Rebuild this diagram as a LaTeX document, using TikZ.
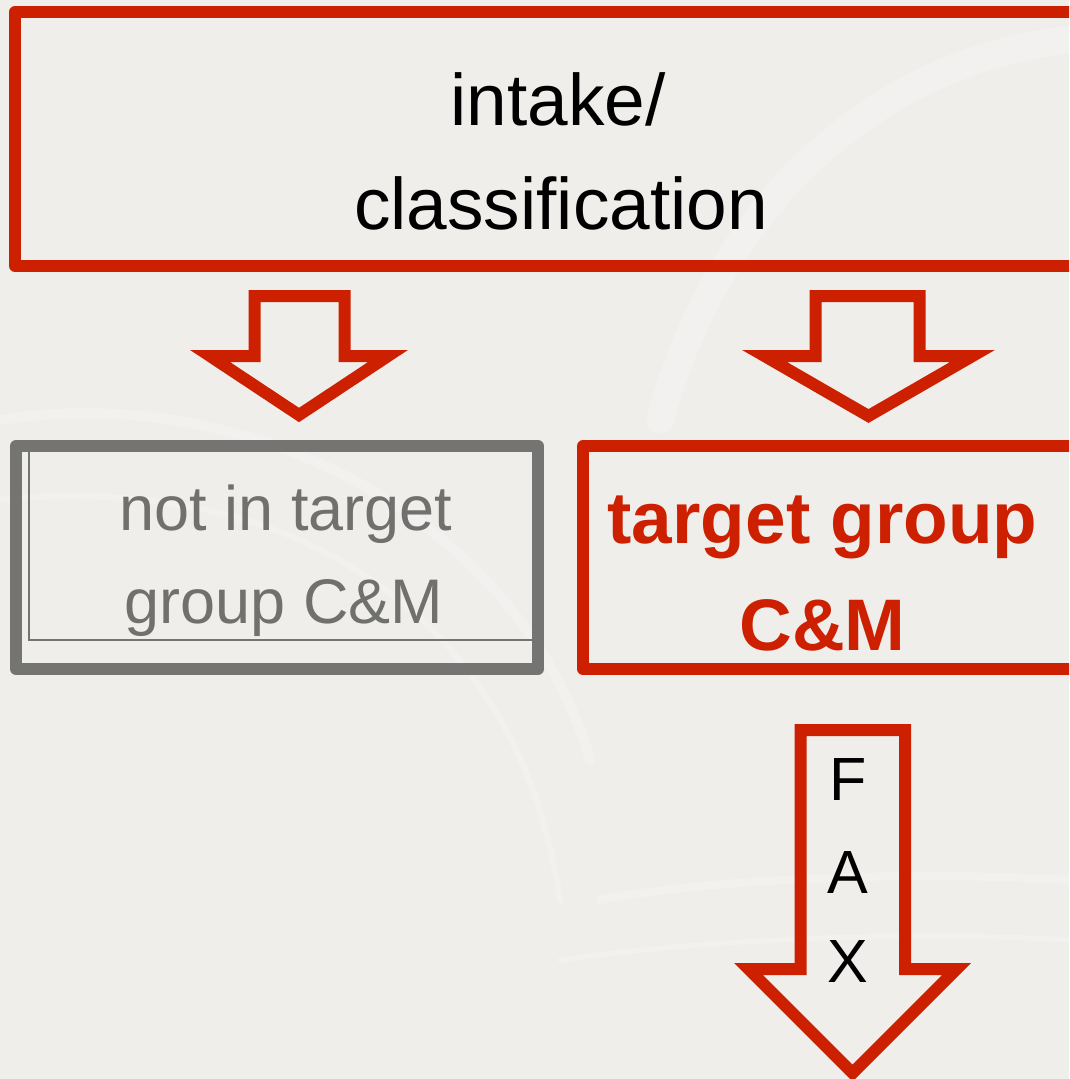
\documentclass[tikz,border=0pt]{standalone}
\usepackage{fontspec}
\setmainfont{Liberation Sans}
\definecolor{cmred}{RGB}{204,32,0}
\definecolor{cmgray}{RGB}{116,116,114}
\definecolor{cmtextgray}{RGB}{112,112,110}
\definecolor{bgcol}{RGB}{239,238,235}
\begin{document}
\begin{tikzpicture}[x=1pt,y=-1pt,
  redbox/.style={draw=cmred, line width=12pt, line join=round, inner sep=0pt},
  graybox/.style={draw=cmgray, line width=12pt, line join=round, inner sep=0pt},
  thinline/.style={draw=cmgray, line width=1.5pt},
  blockarrow/.style={draw=cmred, line width=12pt, line join=miter, miter limit=10},
  toptext/.style={font=\fontsize{73}{88}\selectfont, anchor=base, inner sep=0pt, text=black},
  graytext/.style={font=\fontsize{63}{76}\selectfont, anchor=base, inner sep=0pt, text=cmtextgray},
  redtext/.style={font=\fontsize{73}{88}\selectfont\bfseries, anchor=base, inner sep=0pt, text=cmred},
  faxtext/.style={font=\fontsize{61}{72}\selectfont, anchor=base, inner sep=0pt, text=black},
  bgline/.style={draw=white, opacity=0.22, line cap=round}
]
\useasboundingbox (0,0) rectangle (1069,1079);
\clip (0,0) rectangle (1069,1079);
\fill[bgcol] (0,0) rectangle (1069,1079);

% faint background book shapes
\draw[bgline, line width=28pt] (1069,40) .. controls (880,60) and (720,200) .. (660,420);
\draw[bgline, line width=10pt] (0,420) .. controls (250,380) and (520,520) .. (590,760);
\draw[bgline, line width=6pt] (0,500) .. controls (300,470) and (520,620) .. (560,900);
\draw[bgline, line width=8pt] (600,900) .. controls (700,880) and (900,870) .. (1069,880);
\draw[bgline, line width=5pt] (560,960) .. controls (700,940) and (900,930) .. (1069,940);

% boxes
\node[redbox, minimum width=1065pt, minimum height=254pt] (intake) at (547.5,139) {};
\node[graybox, minimum width=522pt, minimum height=223pt] (notin) at (277,557.5) {};
\node[redbox, minimum width=497pt, minimum height=223pt] (target) at (831.5,557.5) {};
\coordinate (innerTL) at (29,452);
\coordinate (innerBR) at (532,640);
\draw[thinline] (innerTL) |- (innerBR);

% texts
\node[toptext] (t1) at (558,125) {intake/};
\node[toptext] (t2) at (561,229) {classification};
\node[graytext] (g1) at (286,530) {not in target};
\node[graytext] (g2) at (284,623) {group C\&M};
\node[redtext] (r1) at (822.5,543) {target group};
\node[redtext] (r2) at (822.5,650) {C\&M};

% block arrows
\draw[blockarrow] (254.5,296) -- (344.5,296) -- (344.5,356) -- (388,356) -- (299,415) -- (210,356) -- (254.5,356) -- cycle;
\draw[blockarrow] (815.5,296) -- (919.5,296) -- (919.5,356) -- (972.5,356) -- (868.5,416) -- (764.5,356) -- (815.5,356) -- cycle;
\draw[blockarrow] (800.5,730) -- (905,730) -- (905,969) -- (956.5,969) -- (852.5,1073) -- (748.5,969) -- (800.5,969) -- cycle;

\node[faxtext] (fF) at (848,800) {F};
\node[faxtext] (fA) at (848,893) {A};
\node[faxtext] (fX) at (848,982) {X};
\end{tikzpicture}
\end{document}
